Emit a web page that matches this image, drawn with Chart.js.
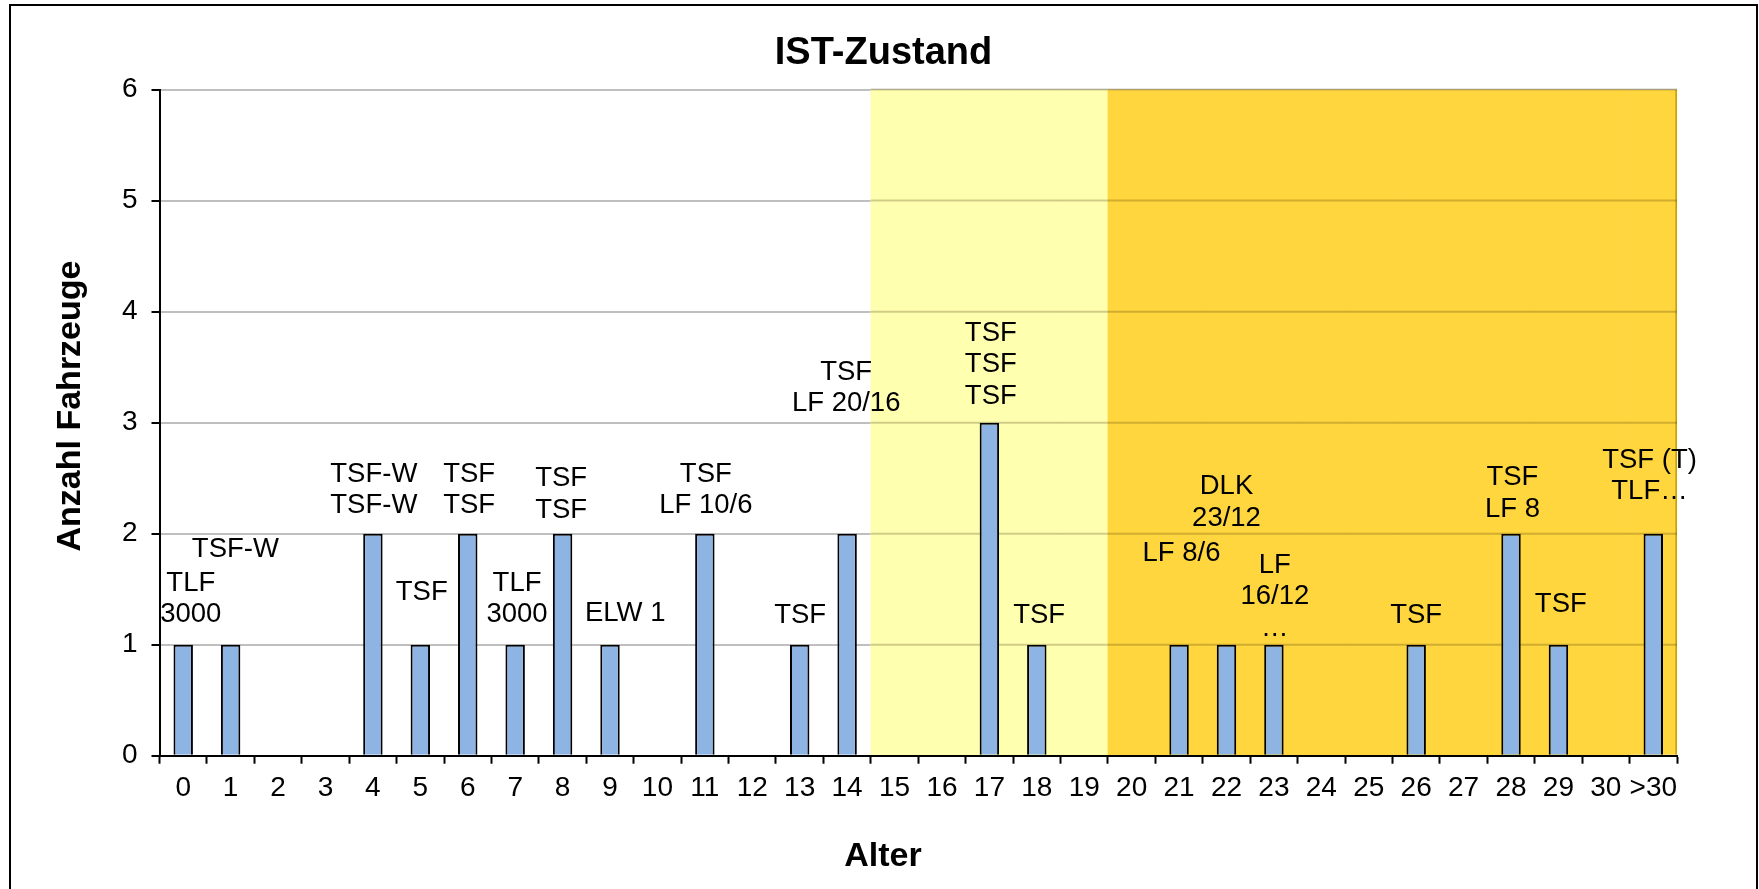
<!DOCTYPE html>
<html>
<head>
<meta charset="utf-8">
<title>IST-Zustand</title>
<script src="https://cdn.jsdelivr.net/npm/chart.js@4/dist/chart.umd.min.js"></script>
<style>
  html, body { margin: 0; padding: 0; background: #fff; }
  canvas { display: block; }
</style>
</head>
<body>
<canvas id="chart" width="1759" height="889"></canvas>
<script>
// Age classes of the vehicles (years)
const ageLabels = ['0','1','2','3','4','5','6','7','8','9','10','11','12','13','14','15',
                   '16','17','18','19','20','21','22','23','24','25','26','27','28','29','30','>30'];

// Number of vehicles per age class
const vehicleCounts = [1,1,0,0,2,1,2,1,2,1,0,2,0,1,2,0,0,3,1,0,0,1,1,1,0,0,1,0,2,1,0,2];

// Vehicle names written above each column
const vehicleNames = [
  ['TLF','3000'], ['TSF-W'], [], [], ['TSF-W','TSF-W'], ['TSF'], ['TSF','TSF'], ['TLF','3000'],
  ['TSF','TSF'], ['ELW 1'], [], ['TSF','LF 10/6'], [], ['TSF'], ['TSF','LF 20/16'], [], [],
  ['TSF','TSF','TSF'], ['TSF'], [], [], ['LF 8/6'], ['DLK','23/12'], ['LF','16/12','…'], [], [],
  ['TSF'], [], ['TSF','LF 8'], ['TSF'], [], ['TSF (T)','TLF…']
];

// How far the lowest name line sits above the column top (in vehicles)
const labelRaise = [0.27,0.86,0,0,0.25,0.47,0.25,0.27,0.21,0.28,0,0.25,0,0.26,1.17,0,0,
                    0.24,0.26,0,0,0.82,1.14,0.15,0,0,0.26,0,0.22,0.36,0,0.38];
// Sideways nudge of the names (in age classes)
const labelShift = [0.16,0.1,0,0,0.02,0.03,0.03,0.04,-0.03,0.32,0,0.02,0,0.01,-0.02,0,0,
                    0.03,0.05,0,0,0.05,0,0.02,0,0,0,0,0.03,0.05,0,-0.08];

// Y axis range
const yTicks = [0,1,2,3,4,5,6];
// Age ranges shaded in the background
const agingAges = ['15','16','17','18','19'];
const oldAges = ['20','21','22','23','24','25','26','27','28','29','30','>30'];

const yMax = yTicks[yTicks.length - 1];
const agingBand = ageLabels.map(a => agingAges.includes(a) ? yMax : null);
const oldBand = ageLabels.map(a => oldAges.includes(a) ? yMax : null);
const lastIndex = ageLabels.length - 1;
const firstShaded = ageLabels.indexOf(agingAges[0]);

const FONT = "'Liberation Sans', Arial, Helvetica, sans-serif";
Chart.defaults.font.family = FONT;
Chart.defaults.color = '#000';

// White page with a frame around the whole chart
const framePlugin = {
  id: 'frame',
  beforeDraw(chart) {
    const ctx = chart.ctx;
    ctx.save();
    ctx.fillStyle = '#fff';
    ctx.fillRect(0, 0, chart.width, chart.height);
    ctx.strokeStyle = '#000';
    ctx.lineWidth = 2;
    ctx.strokeRect(10, 5, chart.width - 12, chart.height + 20);
    ctx.restore();
  }
};

// Gridlines stay visible (darkened) across the shaded age ranges,
// drawn just before the vehicle columns so those stay on top
const shadedGridPlugin = {
  id: 'shadedGrid',
  beforeDatasetDraw(chart, args) {
    if (args.index !== 0) return;
    const {ctx, chartArea, scales: {x, y}} = chart;
    const left = x.getPixelForValue(firstShaded - 0.5);
    ctx.save();
    ctx.strokeStyle = 'rgba(60,40,0,0.24)';
    ctx.lineWidth = 2;
    y.ticks.forEach(t => {
      if (t.value === yTicks[0]) return;
      const py = y.getPixelForValue(t.value);
      ctx.beginPath();
      ctx.moveTo(left, py);
      ctx.lineTo(chartArea.right, py);
      ctx.stroke();
    });
    ctx.restore();
  }
};

// Vehicle names above the columns
const vehicleLabelPlugin = {
  id: 'vehicleLabels',
  afterDatasetsDraw(chart, args, opts) {
    const {ctx, scales: {x, y}} = chart;
    ctx.save();
    ctx.font = `${opts.size}px ${FONT}`;
    ctx.fillStyle = '#000';
    ctx.textAlign = 'center';
    ctx.textBaseline = 'middle';
    vehicleNames.forEach((lines, i) => {
      if (!lines.length) return;
      const cx = x.getPixelForValue(i + labelShift[i]);
      const lowY = y.getPixelForValue(vehicleCounts[i] + labelRaise[i]);
      lines.forEach((t, k) => {
        ctx.fillText(t, cx, lowY - (lines.length - 1 - k) * opts.lineGap);
      });
    });
    ctx.restore();
  }
};

// Axis captions, centred on the frame like the chart title
const axisCaptionPlugin = {
  id: 'axisCaptions',
  afterDraw(chart, args, opts) {
    const ctx = chart.ctx;
    ctx.save();
    ctx.fillStyle = '#000';
    ctx.textAlign = 'center';
    ctx.textBaseline = 'middle';
    ctx.font = `bold ${opts.xSize}px ${FONT}`;
    ctx.fillText(opts.xText, opts.xPos[0], opts.xPos[1]);
    ctx.translate(opts.yPos[0], opts.yPos[1]);
    ctx.rotate(-Math.PI / 2);
    ctx.font = `bold ${opts.ySize}px ${FONT}`;
    ctx.fillText(opts.yText, 0, 0);
    ctx.restore();
  }
};

new Chart(document.getElementById('chart'), {
  type: 'bar',
  data: {
    labels: ageLabels,
    datasets: [
      {
        label: 'Anzahl Fahrzeuge',
        data: vehicleCounts,
        backgroundColor: '#8EB4E3',
        borderColor: '#000',
        borderWidth: 2,
        borderSkipped: 'start',
        grouped: false,
        barPercentage: 0.41,
        categoryPercentage: 1,
        order: 1
      },
      {
        label: '15–19 Jahre',
        data: agingBand,
        backgroundColor: '#FFFFB0',
        borderWidth: 0,
        grouped: false,
        barPercentage: 1,
        categoryPercentage: 1,
        order: 3
      },
      {
        label: 'ab 20 Jahre',
        data: oldBand,
        backgroundColor: '#FFD63E',
        borderColor: '#C9A200',
        borderWidth: ctx => ({top: 0, right: ctx.dataIndex === lastIndex ? 2 : 0, bottom: 0, left: 0}),
        borderSkipped: false,
        grouped: false,
        barPercentage: 1,
        categoryPercentage: 1,
        order: 2
      }
    ]
  },
  options: {
    responsive: false,
    devicePixelRatio: 1,
    animation: false,
    events: [],
    layout: { padding: { left: 90, right: 82, top: 0, bottom: 0 } },
    plugins: {
      legend: { display: false },
      tooltip: { enabled: false },
      title: {
        display: true,
        text: 'IST-Zustand',
        color: '#000',
        font: { size: 38, weight: 'bold', lineHeight: 1.2 },
        padding: { top: 31, bottom: 13 }
      },
      vehicleLabels: { size: 27.5, lineGap: 31.5 },
      axisCaptions: {
        xText: 'Alter', xSize: 34, xPos: [883, 857],
        yText: 'Anzahl Fahrzeuge', ySize: 34, yPos: [71, 406]
      }
    },
    scales: {
      x: {
        offset: true,
        afterFit: s => { s.height = 133.3; },
        grid: {
          display: true,
          offset: true,
          drawOnChartArea: false,
          drawTicks: true,
          tickLength: 8,
          tickColor: '#000',
          tickWidth: 2
        },
        border: { display: true, color: '#000', width: 2 },
        ticks: {
          color: '#000',
          font: { size: 28 },
          padding: 8,
          maxRotation: 0,
          autoSkip: false
        }
      },
      y: {
        min: yTicks[0],
        max: yMax,
        afterFit: s => { s.width = 69.5; },
        afterBuildTicks: s => { s.ticks = yTicks.map(v => ({value: v})); },
        grid: {
          color: '#BFBFBF',
          lineWidth: 2,
          drawTicks: true,
          tickLength: 8,
          tickColor: '#000',
          tickWidth: 2
        },
        border: { display: true, color: '#000', width: 2 },
        ticks: {
          color: '#000',
          font: { size: 28 },
          padding: 14
        }
      }
    }
  },
  plugins: [framePlugin, shadedGridPlugin, vehicleLabelPlugin, axisCaptionPlugin]
});
</script>
</body>
</html>
